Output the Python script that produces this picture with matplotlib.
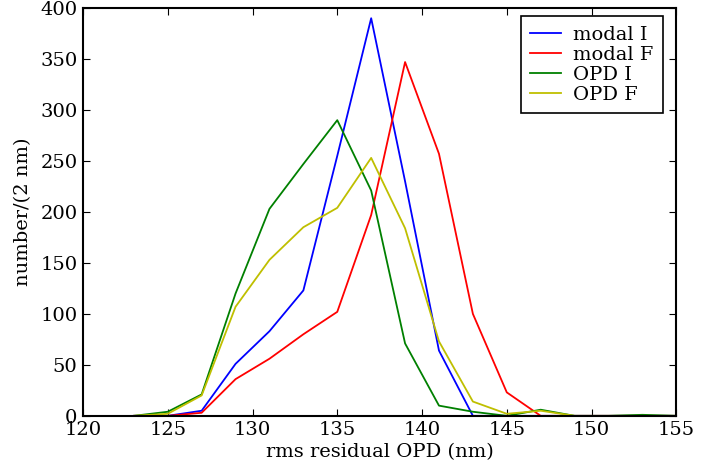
import numpy as np
import matplotlib
matplotlib.use("Agg")
import matplotlib.pyplot as plt

plt.rcParams['font.family'] = ['DejaVu Serif']

# bin centres (nm)
rms = [123, 125, 127, 129, 131, 133, 135, 137, 139, 141, 143, 145, 147, 149, 151, 153, 155]

modal_i = [0, 0, 5, 51, 83, 123, 255, 390, 230, 64, 0, 0, 0, 0, 0, 0, 0]
modal_f = [0, 0, 3, 36, 56, 80, 102, 197, 347, 257, 100, 23, 0, 0, 0, 0, 0]
opd_i = [0, 4, 21, 120, 203, 247, 290, 221, 71, 10, 4, 0, 6, 0, 0, 1, 0]
opd_f = [0, 2, 20, 107, 153, 185, 204, 253, 184, 73, 14, 2, 5, 0, 0, 0, 0]

fig = plt.figure(figsize=(7.28, 4.72), dpi=100)
ax = fig.add_axes([0.114, 0.119, 0.815, 0.864])

ax.plot(rms, modal_i, color='b', lw=1.3, label='modal I')
ax.plot(rms, modal_f, color='r', lw=1.3, label='modal F')
ax.plot(rms, opd_i, color='g', lw=1.3, label='OPD I')
ax.plot(rms, opd_f, color=(0.75, 0.75, 0), lw=1.3, label='OPD F')

ax.set_xlim(120, 155)
ax.set_ylim(0, 400)
ax.set_xticks(np.arange(120, 156, 5))
ax.set_yticks(np.arange(0, 401, 50))
ax.tick_params(direction='in', top=True, right=True, length=5, labelsize=14, pad=4)
for s in ax.spines.values():
    s.set_linewidth(1.5)

ax.set_xlabel('rms residual OPD (nm)', fontsize=14, labelpad=3)
ax.set_ylabel('number/(2 nm)', fontsize=14, labelpad=6)

leg = ax.legend(loc='upper right', bbox_to_anchor=(0.978, 0.98), borderaxespad=0,
                fontsize=14, fancybox=False, edgecolor='black', framealpha=1,
                handlelength=1.6, handletextpad=0.6, labelspacing=0.1, borderpad=0.5)
leg.get_frame().set_linewidth(1.2)

fig.savefig('out.png', dpi=100)
